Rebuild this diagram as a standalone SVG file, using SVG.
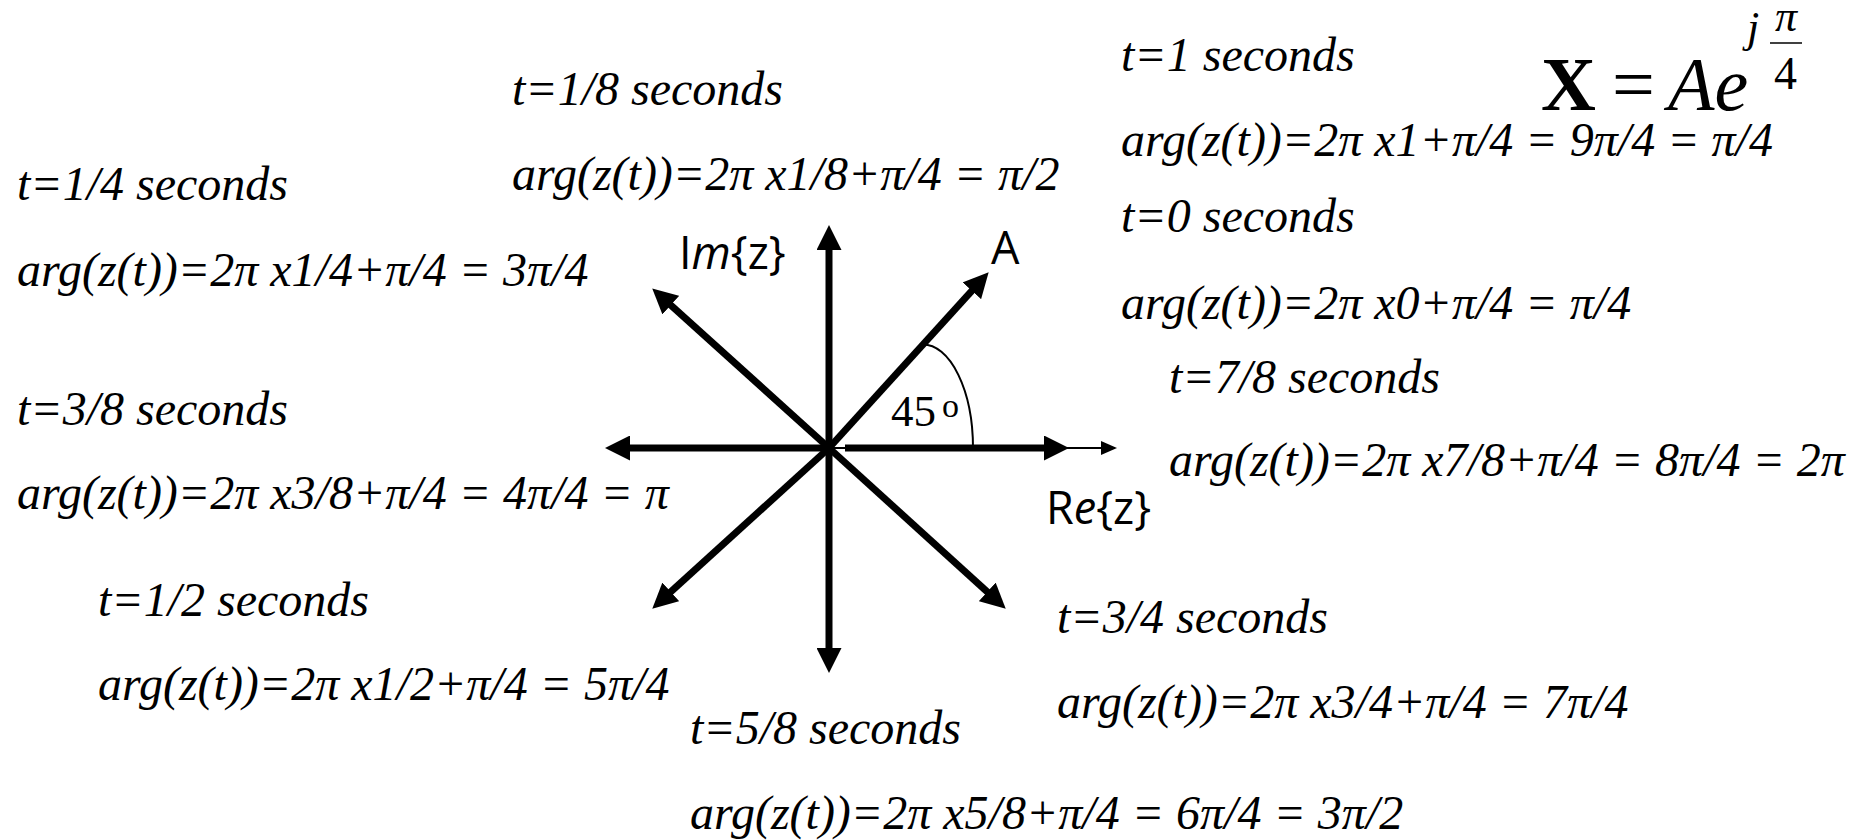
<svg xmlns="http://www.w3.org/2000/svg" width="1866" height="840" viewBox="0 0 1866 840">
<defs>
<marker id="ah" markerUnits="userSpaceOnUse" markerWidth="25" markerHeight="25" viewBox="0 0 25 25" refX="9" refY="12.5" orient="auto"><path d="M0,0 L25,12.5 L0,25 Z" fill="#000"/></marker>
<marker id="ahs" markerUnits="userSpaceOnUse" markerWidth="16" markerHeight="14" viewBox="0 0 16 14" refX="14" refY="7" orient="auto"><path d="M0,0 L16,7 L0,14 Z" fill="#000"/></marker>
<style>
.t{font-family:"Liberation Serif","Times New Roman",serif;font-style:italic;font-size:48px;fill:#000}
.lab{font-family:"Open Sans","Liberation Sans",sans-serif;font-size:45px;fill:#000}
.ar{stroke:#000;stroke-width:7;fill:none;marker-end:url(#ah)}
</style>
</defs>
<rect width="1866" height="840" fill="#fff"/>
<g id="connectors">
<line class="ar" x1="829" y1="448" x2="829" y2="241"/>
<line class="ar" x1="829" y1="448" x2="829" y2="657"/>
<line class="ar" x1="829" y1="448" x2="621" y2="448"/>
<line x1="829" y1="448" x2="1115" y2="448" stroke="#000" stroke-width="2" marker-end="url(#ahs)"/>
<line class="ar" x1="845" y1="448" x2="1053" y2="448"/>
<line class="ar" x1="829" y1="448" x2="977.9" y2="284.1"/>
<line class="ar" x1="829" y1="448" x2="664.1" y2="299.1"/>
<line class="ar" x1="829" y1="448" x2="664.1" y2="597.9"/>
<line class="ar" x1="829" y1="448" x2="993.9" y2="597.9"/>
<path d="M923,344.5 A50,103.5 0 0 1 973,448" fill="none" stroke="#000" stroke-width="2"/>
</g>
<g id="axis-labels">
<text class="lab" x="679" y="269">I<tspan font-style="italic">m</tspan>{z}</text>
<text class="lab" x="991" y="264">A</text>
<text class="lab" x="1046" y="524">R<tspan font-style="italic">e</tspan>{z}</text>
<text x="891" y="426" font-family="Liberation Serif, serif" font-size="45">45</text>
<text x="942" y="417" font-family="Liberation Serif, serif" font-size="34">o</text>
</g>
<g id="formula" font-family="Liberation Serif, serif">
<text x="1541" y="110" font-size="76" font-weight="bold">X</text>
<text x="1612" y="110" font-size="76">=</text>
<text x="1668" y="110" font-size="76" font-style="italic">Ae</text>
<text x="1747" y="42" font-size="44" font-style="italic">j</text>
<text x="1775" y="31" font-size="44" font-style="italic">π</text>
<line x1="1770" y1="43" x2="1802" y2="43" stroke="#000" stroke-width="1.5"/>
<text x="1774" y="89" font-size="46">4</text>
</g>
<g id="t1-8"><text class="t" x="512" y="105">t=1/8 seconds</text><text class="t" x="512" y="190">arg(z(t))=2π x1/8+π/4 = π/2</text></g>
<g id="t1-4"><text class="t" x="17" y="200">t=1/4 seconds</text><text class="t" x="17" y="286">arg(z(t))=2π x1/4+π/4 = 3π/4</text></g>
<g id="t3-8"><text class="t" x="17" y="425">t=3/8 seconds</text><text class="t" x="17" y="509">arg(z(t))=2π x3/8+π/4 = 4π/4 = π</text></g>
<g id="t1-2"><text class="t" x="98" y="616">t=1/2 seconds</text><text class="t" x="98" y="700">arg(z(t))=2π x1/2+π/4 = 5π/4</text></g>
<g id="t5-8"><text class="t" x="690" y="744">t=5/8 seconds</text><text class="t" x="690" y="829">arg(z(t))=2π x5/8+π/4 = 6π/4 = 3π/2</text></g>
<g id="t3-4"><text class="t" x="1057" y="633">t=3/4 seconds</text><text class="t" x="1057" y="718">arg(z(t))=2π x3/4+π/4 = 7π/4</text></g>
<g id="t7-8"><text class="t" x="1169" y="393">t=7/8 seconds</text><text class="t" x="1169" y="476">arg(z(t))=2π x7/8+π/4 = 8π/4 = 2π</text></g>
<g id="t0"><text class="t" x="1121" y="232">t=0 seconds</text><text class="t" x="1121" y="319">arg(z(t))=2π x0+π/4 = π/4</text></g>
<g id="t1"><text class="t" x="1121" y="71">t=1 seconds</text><text class="t" x="1121" y="156">arg(z(t))=2π x1+π/4 = 9π/4 = π/4</text></g>
</svg>
